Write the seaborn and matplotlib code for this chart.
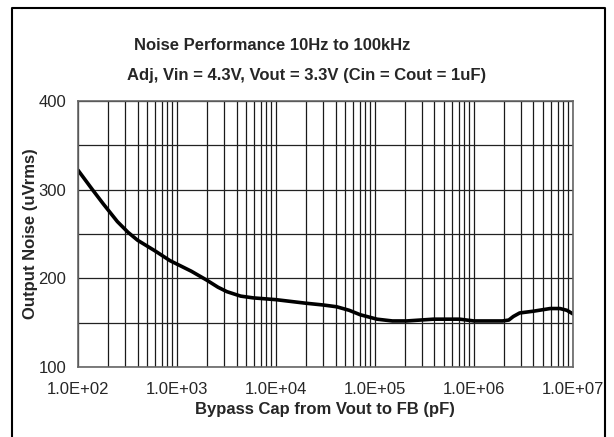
import matplotlib
matplotlib.use("Agg")
import matplotlib.pyplot as plt
import matplotlib.ticker as mticker
from matplotlib.lines import Line2D
import seaborn as sns
import pandas as pd

# Bypass cap (pF) vs output noise (uVrms)
bypass_pf = [1.0e2, 1.4e2, 1.8e2, 2.5e2, 3.2e2, 4.0e2, 6.0e2, 8.5e2, 1.4e3, 2.0e3,
             2.6e3, 3.2e3, 4.4e3, 5.9e3, 1.0e4, 2.0e4, 3.0e4, 4.1e4, 5.5e4,
             7.1e4, 1.05e5, 1.5e5, 2.1e5, 3.9e5, 7.2e5, 1.0e6, 1.95e6,
             2.25e6, 2.5e6, 2.9e6, 4.0e6, 5.9e6, 7.4e6, 8.7e6, 1.0e7]
noise_uv = [322, 300, 284, 264, 252, 243, 231, 220, 208, 198,
            190, 185, 180, 178, 176, 172, 170, 168, 164,
            159, 154, 152, 152, 154, 154, 152, 152,
            153, 157, 161, 163, 166, 166, 164, 160]

yticks = [100, 200, 300, 400]
xticks = [1e2, 1e3, 1e4, 1e5, 1e6, 1e7]
xtick_labels = ["1.0E+02", "1.0E+03", "1.0E+04", "1.0E+05", "1.0E+06", "1.0E+07"]

df = pd.DataFrame({"cap": bypass_pf, "noise": noise_uv})

sns.set_style("white")
plt.rcParams["font.family"] = ["Liberation Sans", "DejaVu Sans"]

fig = plt.figure(figsize=(6.14, 4.37), dpi=100)
ax = fig.add_axes([0.127, 0.160, 0.806, 0.609])

sns.lineplot(data=df, x="cap", y="noise", ax=ax, color="black", linewidth=2.6)

ax.set_xscale("log")
ax.set_xlim(1e2, 1e7)
ax.set_ylim(100, 400)
ax.set_xticks(xticks)
ax.set_xticklabels(xtick_labels)
ax.set_yticks(yticks)
ax.yaxis.set_minor_locator(mticker.MultipleLocator(50))
ax.xaxis.set_minor_locator(mticker.LogLocator(base=10, subs=range(2, 10)))
ax.xaxis.set_minor_formatter(mticker.NullFormatter())

ax.grid(which="both", axis="x", color="#1a1a1a", linewidth=0.9)
ax.grid(which="both", axis="y", color="#222222", linewidth=0.9)
ax.set_axisbelow(True)

for side in ["left", "bottom", "right", "top"]:
    ax.spines[side].set_color("#666666")
    ax.spines[side].set_linewidth(1.2)

ax.tick_params(axis="both", which="major", labelsize=12, length=5, color="#666666",
               direction="out")
ax.tick_params(axis="both", which="minor", length=0)
ax.tick_params(axis="x", pad=6)

ax.set_xlabel("Bypass Cap from Vout to FB (pF)", fontsize=12, fontweight="bold", labelpad=3)
ax.set_ylabel("Output Noise (uVrms)", fontsize=12, fontweight="bold")
ax.yaxis.set_label_coords(-0.081, 0.5)

fig.text(0.443, 0.897, "Noise Performance 10Hz to 100kHz", ha="center", va="center",
         fontsize=12, fontweight="bold")
fig.text(0.500, 0.828, "Adj, Vin = 4.3V, Vout = 3.3V (Cin = Cout = 1uF)", ha="center",
         va="center", fontsize=12, fontweight="bold")

# outer frame (bottom edge falls outside the image)
x0, x1 = 12 / 614, 605 / 614
y1 = 1 - 8 / 437
fig.add_artist(Line2D([x0, x0, x1, x1], [-0.05, y1, y1, -0.05], transform=fig.transFigure,
                      color="black", linewidth=1.5))

fig.savefig("out.png", dpi=100)
